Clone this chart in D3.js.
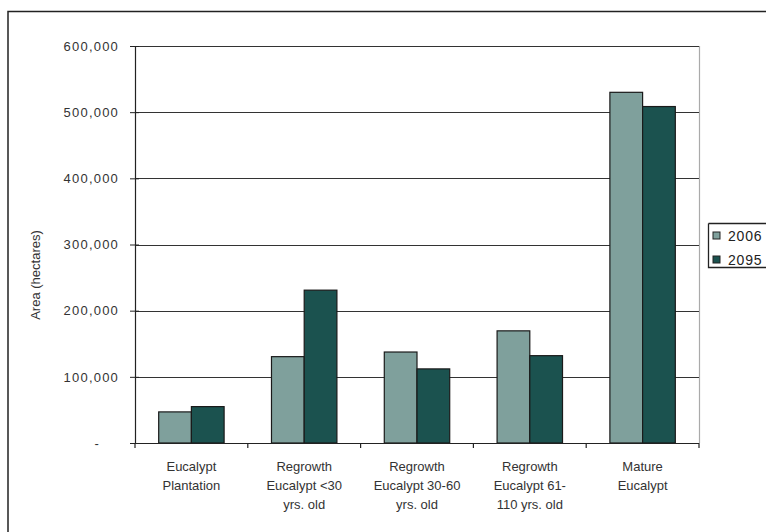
<!DOCTYPE html>
<html>
<head>
<meta charset="utf-8">
<script src="https://cdn.jsdelivr.net/npm/d3@7"></script>
<style>
  html, body { margin: 0; padding: 0; background: #fff; }
  svg { display: block; font-family: "Liberation Sans", Arial, sans-serif; }
</style>
</head>
<body>
<svg id="chart" width="766" height="532"></svg>
<script>
// Forest area by type, 2006 vs 2095 (hectares)
const categories = [
  ["Eucalypt", "Plantation"],
  ["Regrowth", "Eucalypt <30", "yrs. old"],
  ["Regrowth", "Eucalypt 30-60", "yrs. old"],
  ["Regrowth", "Eucalypt 61-", "110 yrs. old"],
  ["Mature", "Eucalypt"]
];
const seriesNames = ["2006", "2095"];
const values2006 = [47000, 130500, 137500, 169500, 530000];
const values2095 = [55000, 231000, 112000, 132000, 508500];
const yTicks = [0, 100000, 200000, 300000, 400000, 500000, 600000];
const colors = ["#7fa09c", "#1b524f"];

const svg = d3.select("#chart");
const margin = { left: 135, right: 699, top: 46, bottom: 443 };

// Outer frame
svg.append("path")
  .attr("d", "M8,532 V11.5 H766")
  .attr("fill", "none").attr("stroke", "#222").attr("stroke-width", 1.5);

const x = d3.scaleBand()
  .domain(d3.range(categories.length))
  .range([margin.left, margin.right])
  .paddingInner(0.42).paddingOuter(0.21);
const xs = d3.scaleBand().domain(seriesNames).range([0, x.bandwidth()]);
const y = d3.scaleLinear().domain([0, 600000]).range([margin.bottom, margin.top]);

// Plot area right border
svg.append("line")
  .attr("x1", margin.right + 0.5).attr("x2", margin.right + 0.5)
  .attr("y1", margin.top).attr("y2", margin.bottom)
  .attr("stroke", "#aaa").attr("stroke-width", 1.2);

// Gridlines
svg.append("g").selectAll("line")
  .data(yTicks.filter(d => d > 0))
  .join("line")
  .attr("x1", margin.left).attr("x2", margin.right)
  .attr("y1", d => Math.round(y(d)) + 0.5).attr("y2", d => Math.round(y(d)) + 0.5)
  .attr("stroke", "#333").attr("stroke-width", 1);

// Bars
const data = categories.map((c, i) => ({ i, vals: [values2006[i], values2095[i]] }));
const groups = svg.append("g").selectAll("g")
  .data(data).join("g")
  .attr("transform", d => `translate(${x(d.i)},0)`);
groups.selectAll("rect")
  .data(d => d.vals.map((v, k) => ({ v, k })))
  .join("rect")
  .attr("x", d => xs(seriesNames[d.k]))
  .attr("width", xs.bandwidth())
  .attr("y", d => y(d.v))
  .attr("height", d => y(0) - y(d.v))
  .attr("fill", d => colors[d.k])
  .attr("stroke", "#1a1a1a").attr("stroke-width", 1.2);

// Y axis
const yAxis = d3.axisLeft(y).tickValues(yTicks)
  .tickFormat(d => d === 0 ? "-" : d3.format(",")(d))
  .tickSize(5).tickPadding(12);
const gy = svg.append("g").attr("transform", `translate(${margin.left},0)`).call(yAxis);
gy.attr("font-size", null).attr("font-family", null);
gy.select(".domain").attr("stroke", "#222").attr("stroke-width", 1.2);
gy.selectAll(".tick line").attr("stroke", "#222").attr("x2", 4).attr("x1", -5);
gy.selectAll(".tick text").attr("fill", "#333")
  .style("font-size", "13px").style("letter-spacing", "1.2px")
  .attr("x", d => d === 0 ? -35 : -16);

// X axis with ticks at category boundaries
svg.append("line")
  .attr("x1", margin.left - 4).attr("x2", margin.right)
  .attr("y1", margin.bottom + 0.5).attr("y2", margin.bottom + 0.5)
  .attr("stroke", "#222").attr("stroke-width", 1.2);
const step = x.step();
svg.append("g").selectAll("line")
  .data(d3.range(categories.length + 1))
  .join("line")
  .attr("x1", i => margin.left + i * step).attr("x2", i => margin.left + i * step)
  .attr("y1", margin.bottom).attr("y2", margin.bottom + 5)
  .attr("stroke", "#222").attr("stroke-width", 1.2);

// Category labels
const lbl = svg.append("g").selectAll("text")
  .data(data).join("text")
  .attr("text-anchor", "middle")
  .style("font-size", "13px").attr("fill", "#333")
  .attr("transform", d => `translate(${x(d.i) + x.bandwidth() / 2},${margin.bottom + 28})`);
lbl.selectAll("tspan")
  .data(d => categories[d.i])
  .join("tspan")
  .attr("x", 0).attr("y", (d, k) => k * 19)
  .text(d => d);

// Y title
svg.append("text")
  .attr("transform", "translate(40,275) rotate(-90)")
  .attr("text-anchor", "middle").style("font-size", "13px").attr("fill", "#333")
  .text("Area (hectares)");

// Legend
const lg = svg.append("g").attr("transform", "translate(708,223)");
lg.append("path").attr("d", "M0.5,0.5 H70 M0.5,0.5 V44.5 H70")
  .attr("fill", "none").attr("stroke", "#222").attr("stroke-width", 1.3);
seriesNames.forEach((s, k) => {
  lg.append("rect").attr("x", 5).attr("y", 9 + k * 24).attr("width", 7).attr("height", 7)
    .attr("fill", colors[k]).attr("stroke", "#222").attr("stroke-width", 1);
  lg.append("text").attr("x", 20).attr("y", 17.5 + k * 24)
    .style("font-size", "14px").style("letter-spacing", "0.8px").attr("fill", "#222").text(s);
});
</script>
</body>
</html>
